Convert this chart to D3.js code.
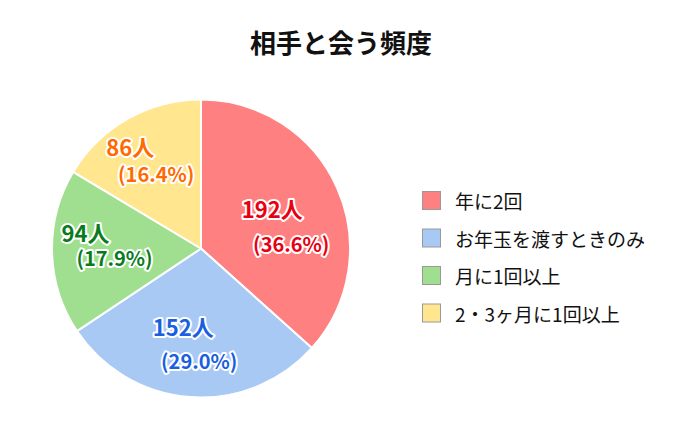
<!DOCTYPE html>
<html>
<head>
<meta charset="utf-8">
<script src="https://d3js.org/d3.v7.min.js"></script>
<style>
  body { margin: 0; background: #fff; }
  text { font-family: "Noto Sans CJK JP", "Noto Sans", sans-serif; }
</style>
</head>
<body>
<script>
// データ
var categories = ["年に2回", "お年玉を渡すときのみ", "月に1回以上", "2・3ヶ月に1回以上"];
var counts = [192, 152, 94, 86];
var percents = ["36.6%", "29.0%", "17.9%", "16.4%"];
var fillColors = ["#ff8080", "#a9c9f5", "#a0df8f", "#ffe68f"];
var labelColors = ["#e60012", "#1a5fe0", "#0b7a1e", "#ff6a00"];

// ラベルの微調整 [dx, dy, 行のずらしx, 行のずらしy]
var labelNudge = [[-6, 16, 9.5, 17.5], [-3, 0, 8, 17.5], [-6, -6, 14.5, 13], [-11, -6, 13, 13.5]];

var w = 680, h = 430;
var cx = 201, cy = 248.5, r = 149;

var svg = d3.select("body").append("svg")
    .attr("width", w)
    .attr("height", h);

svg.append("text")
    .attr("x", 341)
    .attr("y", 41)
    .attr("text-anchor", "middle")
    .attr("dominant-baseline", "central")
    .attr("font-size", 26)
    .attr("font-weight", "bold")
    .attr("fill", "#111")
    .text("相手と会う頻度");

var pie = d3.pie().sort(null);
var arcs = pie(counts);
var arc = d3.arc().innerRadius(0).outerRadius(r);
var labelArc = d3.arc().innerRadius(95).outerRadius(95);

var g = svg.append("g").attr("transform", "translate(" + cx + "," + cy + ")");

g.selectAll("path.slice")
    .data(arcs)
    .enter().append("path")
    .attr("class", "slice")
    .attr("d", arc)
    .attr("fill", function(d, i) { return fillColors[i]; })
    .attr("stroke", "#fff")
    .attr("stroke-width", 2);

var labels = g.selectAll("g.label")
    .data(arcs)
    .enter().append("g")
    .attr("class", "label")
    .attr("transform", function(d, i) {
        var c = labelArc.centroid(d);
        return "translate(" + (c[0] + labelNudge[i][0]) + "," + (c[1] + labelNudge[i][1]) + ")";
    });

function halo(sel) {
    sel.attr("text-anchor", "middle")
       .attr("dominant-baseline", "central")
       .attr("font-weight", "bold")
       .attr("stroke", "#fff")
       .attr("stroke-width", 4)
       .attr("stroke-linejoin", "round")
       .attr("paint-order", "stroke");
}

labels.append("text")
    .call(halo)
    .attr("x", function(d, i) { return -labelNudge[i][2]; })
    .attr("y", function(d, i) { return -labelNudge[i][3]; })
    .attr("font-size", 22)
    .attr("fill", function(d, i) { return labelColors[i]; })
    .text(function(d, i) { return counts[i] + "人"; });

labels.append("text")
    .call(halo)
    .attr("x", function(d, i) { return labelNudge[i][2]; })
    .attr("y", function(d, i) { return labelNudge[i][3]; })
    .attr("font-size", 20)
    .attr("fill", function(d, i) { return labelColors[i]; })
    .text(function(d, i) { return "(" + percents[i] + ")"; });

// 凡例
var legendY = d3.scalePoint().domain(categories).range([200.5, 313]);

var legend = svg.selectAll("g.legend")
    .data(categories)
    .enter().append("g")
    .attr("class", "legend")
    .attr("transform", function(d) { return "translate(422," + legendY(d) + ")"; });

legend.append("rect")
    .attr("x", 0.5)
    .attr("y", -9)
    .attr("width", 18)
    .attr("height", 18)
    .attr("fill", function(d, i) { return fillColors[i]; })
    .attr("stroke", "#999")
    .attr("stroke-width", 1);

legend.append("text")
    .attr("x", 33)
    .attr("y", 0)
    .attr("dominant-baseline", "central")
    .attr("font-size", 19)
    .attr("fill", "#111")
    .text(function(d) { return d; });
</script>
</body>
</html>
